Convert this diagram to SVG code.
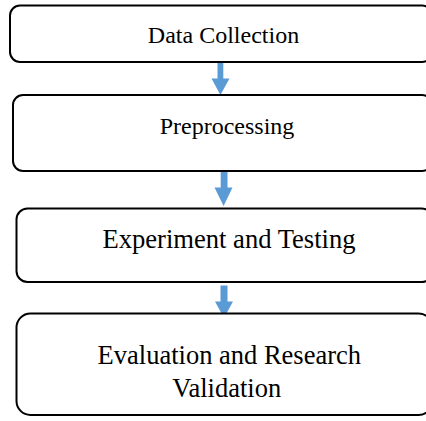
<svg xmlns="http://www.w3.org/2000/svg" width="426" height="421" viewBox="0 0 426 421">
<style>
.box{fill:#fff;stroke:#000;stroke-width:2}
.t{font-family:"Liberation Serif","Times New Roman",serif;fill:#000;text-anchor:middle}
.arr{fill:#5B9BD5}
</style>
<rect width="426" height="421" fill="#fff"/>
<g id="connectors">
<polygon class="arr" points="217.5,62.5 223.3,62.5 223.3,78.5 229.5,78.5 220.4,95 211.5,78.5 217.5,78.5"/>
<polygon class="arr" points="220.7,172 227.5,172 227.5,187.5 232.5,187.5 223.6,206 214.5,187.5 220.7,187.5"/>
<polygon class="arr" points="220.5,285.5 227.5,285.5 227.5,301.5 233,301.5 224,318 215,301.5 220.5,301.5"/>
</g>
<g id="n1">
<rect class="box" x="10" y="5.5" width="422" height="56.5" rx="10"/>
<text class="t" x="223.5" y="42.7" font-size="24">Data Collection</text>
</g>
<g id="n2">
<rect class="box" x="13" y="95" width="419" height="76" rx="10"/>
<text class="t" x="227" y="134.3" font-size="24">Preprocessing</text>
</g>
<g id="n3">
<rect class="box" x="16.5" y="208.5" width="416" height="73.5" rx="11"/>
<text class="t" x="229" y="248.3" font-size="26.6">Experiment and Testing</text>
</g>
<g id="n4">
<rect class="box" x="16.5" y="313.5" width="416" height="101.5" rx="14"/>
<text class="t" x="229.3" y="364" font-size="26.5">Evaluation and Research</text>
<text class="t" x="226.7" y="396.7" font-size="26.5">Validation</text>
</g>
</svg>
